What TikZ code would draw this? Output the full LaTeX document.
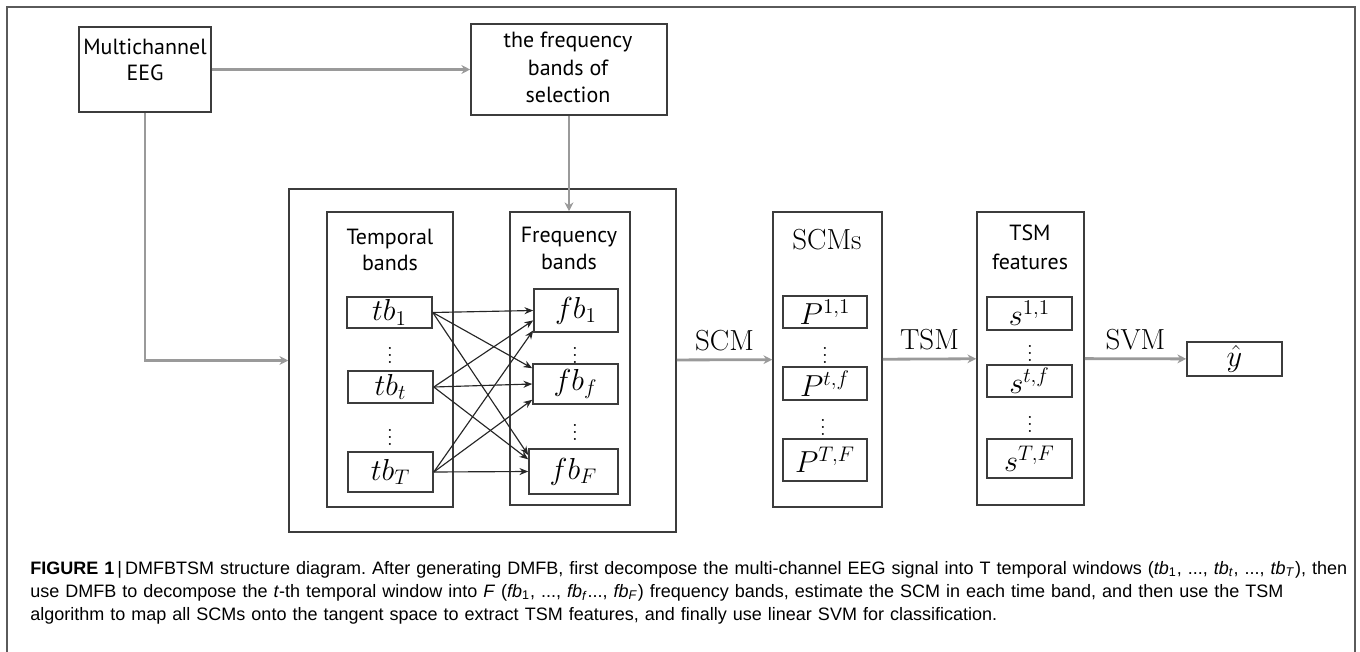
\documentclass[tikz,border=0pt]{standalone}
\usepackage{fontspec}
\usepackage{xcolor,amsmath,tikz}
\usetikzlibrary{arrows.meta}
\newfontfamily\boxfont{PT Sans}
\newfontfamily\capfont{Liberation Sans}
\definecolor{framegray}{HTML}{5A5A5A}
\definecolor{boxgray}{HTML}{3C3C3C}
\definecolor{flowgray}{HTML}{9A9A9A}

\begin{document}
\begin{tikzpicture}[x=0.02cm, y=-0.02cm,
		box/.style={draw=boxgray, line width=0.9pt, inner sep=0pt},
		flow/.style={draw=flowgray, line width=1.6pt, -{Stealth[length=5pt, width=5pt]}},
		link/.style={draw=black!85, line width=0.65pt, -{Stealth[length=5pt, width=4pt]}},
		sans/.style={font=\boxfont\fontsize{12.5}{15}\selectfont, align=center},
		serif/.style={font=\fontsize{16.5}{20}\selectfont},
		dots/.style={font=\fontsize{12}{14}\selectfont, inner sep=0pt}]
			\useasboundingbox (0, 0) rectangle (1360, 652);
			\draw[framegray, line width=1.1pt] (7, 652) -- (7, 7) -- (1355, 7) -- (1355, 652);

			\draw (145, 69.5) 	node[box, minimum width=2.64cm, minimum height=1.7cm] 	(eeg) 		{};
			\draw (145, 60) 	node[sans] 						(eeg_txt) 	{Multichannel\\EEG};
			\draw (569, 69.5) 	node[box, minimum width=3.92cm, minimum height=1.82cm] 	(sel) 		{};
			\draw (568, 67.5) 	node[sans, font=\boxfont\fontsize{12.5}{15.6}\selectfont] (sel_txt) 	{the frequency\\bands of\\selection};

			\draw (482.5, 360.5) 	node[box, minimum width=7.74cm, minimum height=6.86cm] 	(big) 		{};
			\draw (390, 359.5) 	node[box, minimum width=2.52cm, minimum height=5.9cm] 	(tmp) 		{};
			\draw (390, 250) 	node[sans] 						(tmp_txt) 	{Temporal\\bands};
			\draw (570, 358.5) 	node[box, minimum width=2.4cm, minimum height=5.86cm] 	(frq) 		{};
			\draw (569, 248.5) 	node[sans] 						(frq_txt) 	{Frequency\\bands};

			\draw (389.5, 312.5) 	node[box, serif, minimum width=1.7cm, minimum height=0.62cm] 	(tb1) 		{$tb_1$};
			\draw (390, 350) 	node[dots] 						(tb_d1) 	{$\vdots$};
			\draw (390.5, 387) 	node[box, serif, minimum width=1.7cm, minimum height=0.64cm] 	(tbt) 		{$tb_t$};
			\draw (390, 432) 	node[dots] 						(tb_d2) 	{$\vdots$};
			\draw (390.5, 472) 	node[box, serif, minimum width=1.7cm, minimum height=0.8cm] 	(tbT) 		{$tb_T$};

			\draw (576, 310.5) 	node[box, serif, minimum width=1.68cm, minimum height=0.86cm] 	(fb1) 		{$fb_1$};
			\draw (575, 350) 	node[dots] 						(fb_d1) 	{$\vdots$};
			\draw (575.5, 384) 	node[box, serif, minimum width=1.7cm, minimum height=0.8cm] 	(fbf) 		{$fb_f$};
			\draw (575, 427) 	node[dots] 						(fb_d2) 	{$\vdots$};
			\draw (573.5, 471.5) 	node[box, serif, minimum width=1.78cm, minimum height=0.9cm] 	(fbF) 		{$fb_F$};

			\draw (827.5, 359.5) 	node[box, minimum width=2.18cm, minimum height=5.9cm] 	(scm) 		{};
			\draw (827, 240) 	node[serif] 						(scm_txt) 	{SCMs};
			\draw (825, 312) 	node[box, serif, minimum width=1.68cm, minimum height=0.64cm] 	(p11) 		{$P^{1,1}$};
			\draw (825, 350) 	node[dots] 						(p_d1) 		{$\vdots$};
			\draw (825, 383.5) 	node[box, serif, minimum width=1.68cm, minimum height=0.66cm] 	(ptf) 		{$P^{t,f}$};
			\draw (823, 422) 	node[dots] 						(p_d2) 		{$\vdots$};
			\draw (825, 460) 	node[box, serif, minimum width=1.68cm, minimum height=0.84cm] 	(pTF) 		{$P^{T,F}$};

			\draw (1030.5, 358.5) 	node[box, minimum width=2.14cm, minimum height=5.86cm] 	(tsm) 		{};
			\draw (1030, 247.5) 	node[sans, font=\boxfont\fontsize{12.5}{16.5}\selectfont] (tsm_txt) 	{TSM\\features};
			\draw (1029.5, 313.5) 	node[box, serif, minimum width=1.7cm, minimum height=0.66cm] 	(s11) 		{$s^{1,1}$};
			\draw (1030, 348) 	node[dots] 						(s_d1) 		{$\vdots$};
			\draw (1029.5, 381) 	node[box, serif, minimum width=1.7cm, minimum height=0.64cm] 	(stf) 		{$s^{t,f}$};
			\draw (1030, 419) 	node[dots] 						(s_d2) 		{$\vdots$};
			\draw (1029.5, 458.5) 	node[box, serif, minimum width=1.7cm, minimum height=0.78cm] 	(sTF) 		{$s^{T,F}$};

			\draw (1234.5, 359) 	node[box, serif, minimum width=1.9cm, minimum height=0.68cm] 	(yhat) 		{$\hat{y}$};

			\draw[flow] (eeg) -- (sel);
			\draw[flow] (eeg) |- (big);
			\draw[flow] (sel) -- (sel |- frq.north);
			\draw[flow] (big) -- node[serif, above=1pt] (scm_lbl) {SCM} (scm);
			\draw[flow] (scm) -- node[serif, above=1pt] (tsm_lbl) {TSM} (tsm);
			\draw[flow] (tsm) -- node[serif, above=1pt] (svm_lbl) {SVM} (yhat);

			\draw[link] (tb1.east) -- (fb1.west);
			\draw[link] (tb1.east) -- (fbf.160);
			\draw[link] (tb1.east) -- (fbF.160);
			\draw[link] (tbt.east) -- (fb1.193);
			\draw[link] (tbt.east) -- (fbf.west);
			\draw[link] (tbt.east) -- (fbF.165);
			\draw[link] (tbT.east) -- (fb1.205);
			\draw[link] (tbT.east) -- (fbf.200);
			\draw[link] (tbT.east) -- (fbF.west);

			\draw (30, 574) 	node[anchor=base west, inner sep=0pt, text width=26.6cm, align=left, font=\capfont\fontsize{10.25}{13.2}\selectfont\frenchspacing] (caption) {{\bfseries FIGURE 1}\,|\,DMFBTSM structure diagram. After generating DMFB, first decompose the multi-channel EEG signal into T temporal windows (\textit{tb}\textsubscript{1}, ..., \textit{tb}\textsubscript{\textit{t}}, ..., \textit{tb}\textsubscript{\textit{T}}), then\\
use DMFB to decompose the \textit{t}-th temporal window into \textit{F} (\textit{fb}\textsubscript{1}, ..., \textit{fb}\textsubscript{\textit{f}}..., \textit{fb}\textsubscript{\textit{F}}) frequency bands, estimate the SCM in each time band, and then use the TSM\\
algorithm to map all SCMs onto the tangent space to extract TSM features, and finally use linear SVM for classification.};
		\end{tikzpicture}
\end{document}
